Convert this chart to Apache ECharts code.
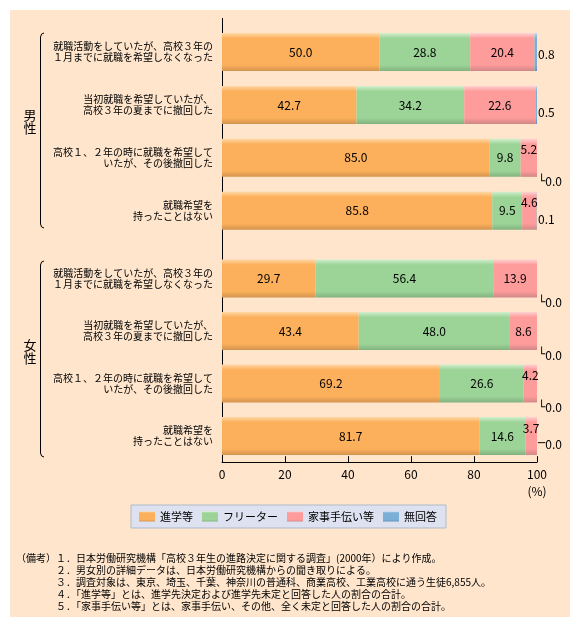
<!DOCTYPE html>
<html>
<head>
<meta charset="utf-8">
<script src="https://cdn.jsdelivr.net/npm/echarts@6/dist/echarts.min.js"></script>
<style>
html,body{margin:0;padding:0;background:#fff;}
#wrap{position:relative;width:580px;height:628px;background:#fff;}
#bg{position:absolute;left:10px;top:10px;width:560px;height:607px;background:#FEE5CC;}
#chart{position:absolute;left:0;top:0;width:580px;height:628px;}
</style>
</head>
<body>
<div id="wrap"><div id="bg"></div><div id="chart"></div></div>
<script>
// ---- data ----
const categories = [
  '就職活動をしていたが、高校３年の\n１月までに就職を希望しなくなった',
  '当初就職を希望していたが、\n高校３年の夏までに撤回した',
  '高校１、２年の時に就職を希望して\nいたが、その後撤回した',
  '就職希望を\n持ったことはない'
];
const seriesNames = ['進学等', 'フリーター', '家事手伝い等', '無回答'];
const groupNames = ['男\n性', '女\n性'];
const xTicks = [0, 20, 40, 60, 80, 100];

const maleShingaku = [50.0, 42.7, 85.0, 85.8];
const maleFreeter  = [28.8, 34.2, 9.8, 9.5];
const maleKaji     = [20.4, 22.6, 5.2, 4.6];
const maleMukaitou = [0.8, 0.5, 0.0, 0.1];

const femaleShingaku = [29.7, 43.4, 69.2, 81.7];
const femaleFreeter  = [56.4, 48.0, 26.6, 14.6];
const femaleKaji     = [13.9, 8.6, 4.2, 3.7];
const femaleMukaitou = [0.0, 0.0, 0.0, 0.0];

const notes = [
  '（備考）１．日本労働研究機構「高校３年生の進路決定に関する調査」(2000年）により作成。',
  '２．男女別の詳細データは、日本労働研究機構からの聞き取りによる。',
  '３．調査対象は、東京、埼玉、千葉、神奈川の普通科、商業高校、工業高校に通う生徒6,855人。',
  '４．「進学等」とは、進学先決定および進学先未定と回答した人の割合の合計。',
  '５．「家事手伝い等」とは、家事手伝い、その他、全く未定と回答した人の割合の合計。'
];

// ---- styles ----
const FONT = '"Noto Sans CJK JP", "Noto Sans", sans-serif';
const palette = [
  ['#FFD8A6', '#FCB05B', '#D4944F'],
  ['#D3EFCE', '#9CD498', '#82B27F'],
  ['#FFD2D2', '#FE9B9B', '#D18787'],
  ['#BBD8EE', '#7BAFD6', '#6290B6']
];
function grad(p) {
  return new echarts.graphic.LinearGradient(0, 0, 0, 1, [
    {offset: 0, color: p[0]}, {offset: 0.14, color: p[1]},
    {offset: 0.84, color: p[1]}, {offset: 1, color: p[2]}
  ]);
}
// vertical offsets of the 無回答 labels (per group, per row)
const blueDy = [[2, 7, 24, 9], [24, 24, 24, 8]];
const blueLead = [['', '', '└', ''], ['└', '└', '└', '─']];

function items(vals, sIdx, gIdx) {
  return vals.map((v, i) => {
    const lab = {show: true, color: '#000', fontSize: 12, fontFamily: FONT};
    if (sIdx < 3) {
      lab.position = 'inside';
      lab.formatter = v.toFixed(1);
      if (v < 6) lab.offset = [0, -8];
    } else {
      lab.position = 'right';
      lab.distance = 1;
      lab.offset = [0, blueDy[gIdx][i]];
      const lead = blueLead[gIdx][i];
      lab.formatter = (lead ? '{l|' + lead + '}' : '') + v.toFixed(1);
      lab.rich = {l: {fontFamily: 'DejaVu Sans', fontSize: 12, color: '#000'}};
    }
    return {value: v, label: lab};
  });
}

const groups = [
  [maleShingaku, maleFreeter, maleKaji, maleMukaitou],
  [femaleShingaku, femaleFreeter, femaleKaji, femaleMukaitou]
];

const series = [];
groups.forEach((g, gi) => {
  g.forEach((vals, si) => {
    series.push({
      type: 'bar', name: seriesNames[si], stack: 'g' + gi,
      xAxisIndex: gi, yAxisIndex: gi, barWidth: 38,
      itemStyle: {color: grad(palette[si])},
      data: items(vals, si, gi)
    });
  });
});

const chart = echarts.init(document.getElementById('chart'), null, {renderer: 'canvas'});

function yAx(gi) {
  return {
    type: 'category', gridIndex: gi, data: categories, inverse: true,
    axisLine: {show: false}, axisTick: {show: false},
    axisLabel: {color: '#000', fontSize: 10, lineHeight: 11, fontFamily: FONT, margin: 9, align: 'right'}
  };
}
function xAx(gi, show) {
  return {
    type: 'value', gridIndex: gi, min: 0, max: 100, interval: 20, show: show,
    splitLine: {show: false},
    axisLine: {show: true, lineStyle: {color: '#000', width: 1}},
    axisTick: {show: true, inside: true, length: 6, lineStyle: {color: '#000'}},
    axisLabel: {color: '#000', fontSize: 12, fontFamily: FONT, margin: 6,
      formatter: v => xTicks.indexOf(v) >= 0 ? String(v) : ''}
  };
}

const bracket = (t, b) => [[44, t], [41.6, t + 1], [40.5, t + 4], [40.5, b - 4], [41.6, b - 1], [44, b]];

const graphic = [
  {type: 'line', shape: {x1: 222.5, y1: 18, x2: 222.5, y2: 462}, style: {stroke: '#000', lineWidth: 1}},
  {type: 'polyline', shape: {points: bracket(33, 228)}, style: {stroke: '#000', fill: null, lineWidth: 1}},
  {type: 'polyline', shape: {points: bracket(261, 457)}, style: {stroke: '#000', fill: null, lineWidth: 1}},
  {type: 'text', x: 30, y: 122, style: {text: groupNames[0], font: '13px ' + FONT, fill: '#000', align: 'center', verticalAlign: 'middle', lineHeight: 13}},
  {type: 'text', x: 30, y: 352, style: {text: groupNames[1], font: '13px ' + FONT, fill: '#000', align: 'center', verticalAlign: 'middle', lineHeight: 13}},
  {type: 'text', x: 537, y: 491, style: {text: '(%)', font: '12px ' + FONT, fill: '#000', align: 'center', verticalAlign: 'middle'}}
];
notes.forEach((n, i) => {
  graphic.push({type: 'text', x: i === 0 ? 16 : 56, y: 558 + i * 12,
    style: {text: n, font: '10px ' + FONT, fill: '#000', align: 'left', verticalAlign: 'middle'}});
});

chart.setOption({
  animation: false,
  textStyle: {fontFamily: FONT},
  grid: [
    {left: 222, right: 43, top: 25.6, height: 211.6},
    {left: 222, right: 43, top: 252.2, height: 210}
  ],
  xAxis: [xAx(0, false), xAx(1, true)],
  yAxis: [yAx(0), yAx(1)],
  legend: {
    data: seriesNames, left: 131, top: 505,
    backgroundColor: '#DEE1F0', borderColor: '#AEBBCB', borderWidth: 1,
    padding: [6, 9, 6, 8], itemGap: 9, itemWidth: 16, itemHeight: 10,
    icon: 'rect',
    textStyle: {color: '#000', fontSize: 11, fontFamily: FONT}
  },
  graphic: graphic,
  series: series
});
</script>
</body>
</html>
